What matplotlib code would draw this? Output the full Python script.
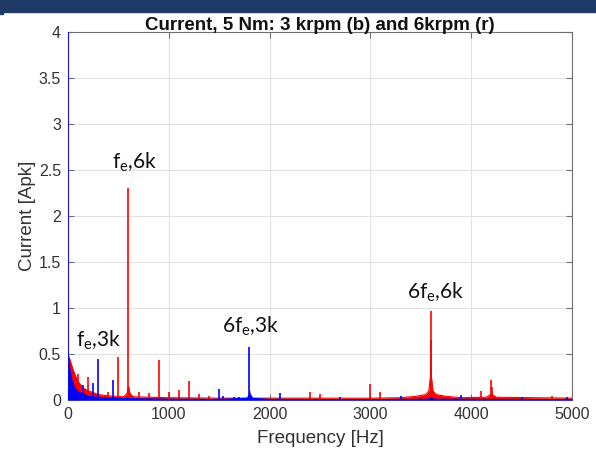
import matplotlib
matplotlib.use("Agg")
import matplotlib.pyplot as plt
from matplotlib.patches import Rectangle

# Spectrum envelopes (broadband floor and skirts), frequency in Hz, amplitude in Apk
blue_floor_f = [0, 8, 15, 25, 40, 60, 80, 100, 130, 160, 200, 250, 300, 400, 500, 700,
                1000, 1500, 1770, 1792, 1800, 1808, 1830, 2000, 3000, 3585, 3600, 3615, 5000]
blue_floor_a = [0.50, 0.45, 0.38, 0.30, 0.22, 0.16, 0.12, 0.10, 0.08, 0.07, 0.05, 0.045,
                0.04, 0.03, 0.03, 0.025, 0.02, 0.018, 0.03, 0.07, 0.12, 0.07, 0.03, 0.018,
                0.015, 0.02, 0.05, 0.02, 0.015]

red_floor_f = [0, 10, 30, 50, 75, 100, 150, 200, 300, 400, 550, 585, 600, 615, 650, 800,
               1000, 1500, 2000, 3000, 3300, 3450, 3550, 3580, 3592, 3600, 3608, 3620,
               3650, 3750, 3900, 4150, 4192, 4200, 4208, 4250, 5000]
red_floor_a = [0.48, 0.47, 0.40, 0.33, 0.26, 0.20, 0.13, 0.10, 0.06, 0.045, 0.035, 0.07,
               0.15, 0.07, 0.035, 0.03, 0.025, 0.02, 0.02, 0.02, 0.025, 0.04, 0.06, 0.10,
               0.22, 0.30, 0.22, 0.10, 0.06, 0.04, 0.025, 0.03, 0.06, 0.08, 0.06, 0.03, 0.02]

# Discrete spectral lines
blue_peak_f = [0, 150, 250, 300, 450, 1500, 1540, 1650, 1700, 1800, 2100, 2700, 3300,
               3900, 4500, 4950]
blue_peak_a = [4.4, 0.16, 0.18, 0.45, 0.22, 0.12, 0.04, 0.03, 0.03, 0.58, 0.08, 0.03,
               0.04, 0.05, 0.03, 0.03]

red_peak_f = [95, 195, 395, 500, 600, 700, 800, 900, 1000, 1100, 1200, 1300, 1400, 2400,
              2500, 3000, 3100, 3597, 3600, 3603, 4000, 4100, 4200, 4207, 4800]
red_peak_a = [0.28, 0.25, 0.09, 0.47, 2.30, 0.09, 0.08, 0.43, 0.09, 0.11, 0.21, 0.065,
              0.04, 0.09, 0.06, 0.17, 0.09, 0.45, 0.97, 0.65, 0.03, 0.10, 0.22, 0.14, 0.045]

x_ticks = [0, 1000, 2000, 3000, 4000, 5000]
y_ticks = [0, 0.5, 1, 1.5, 2, 2.5, 3, 3.5, 4]
y_tick_labels = ["0", "0.5", "1", "1.5", "2", "2.5", "3", "3.5", "4"]

# Harmonic annotations: (text, frequency, amplitude)
notes = [("f$_\\mathregular{e}$,6k", 665, 2.58),
         ("f$_\\mathregular{e}$,3k", 303, 0.65),
         ("6f$_\\mathregular{e}$,3k", 1815, 0.80),
         ("6f$_\\mathregular{e}$,6k", 3651, 1.17)]

plt.rcParams['font.family'] = ['Liberation Sans', 'DejaVu Sans']
plt.rcParams['mathtext.fontset'] = 'custom'
plt.rcParams['mathtext.rm'] = 'Lato'

fig = plt.figure(figsize=(5.96, 4.55), dpi=100)
fig.patches.append(Rectangle((0, 1 - 12 / 455), 1, 12 / 455, transform=fig.transFigure,
                             color='#1f3a66', zorder=10))
fig.patches.append(Rectangle((0, 1 - 14 / 455), 3 / 596, 2 / 455, transform=fig.transFigure,
                             color='#1f3a66', zorder=10))

ax = fig.add_axes([68 / 596, 1 - 400 / 455, 504 / 596, 368 / 455])

red = (1, 0, 0)
blue = (0, 0, 1)

ax.fill_between(red_floor_f, 0, red_floor_a, color=red, lw=0, zorder=2)
ax.plot(red_floor_f, red_floor_a, color=red, lw=0.8, zorder=2)
ax.vlines(red_peak_f, 0, red_peak_a, color=red, lw=1.2, zorder=2)

ax.fill_between(blue_floor_f, 0, blue_floor_a, color=blue, lw=0, zorder=3)
ax.vlines(blue_peak_f, 0, blue_peak_a, color=blue, lw=1.2, zorder=3)

for txt, f, a in notes:
    ax.text(f, a, txt, ha='center', va='center', fontsize=15, family='Lato',
            color='#111111', zorder=5)

ax.set_xlim(0, 5000)
ax.set_ylim(0, 4)
ax.set_xticks(x_ticks)
ax.set_yticks(y_ticks)
ax.set_yticklabels(y_tick_labels)
ax.grid(True, color='#e2e2e2', lw=0.8)
ax.set_axisbelow(True)
for s in ax.spines.values():
    s.set_color('#707070')
    s.set_linewidth(0.8)
ax.tick_params(direction='in', length=4, width=0.8, color='#707070',
               top=True, right=True, labelsize=11.5, labelcolor='#333333', pad=5)

ax.set_xlabel("Frequency [Hz]", fontsize=13.5, color='#333333', labelpad=6)
ax.set_ylabel("Current [Apk]", fontsize=13.5, color='#333333', labelpad=2)
ax.set_title("Current, 5 Nm: 3 krpm (b) and 6krpm (r)", fontsize=13.5, fontweight='bold',
             color='#111111', pad=1.5)

fig.savefig("out.png", dpi=100)
